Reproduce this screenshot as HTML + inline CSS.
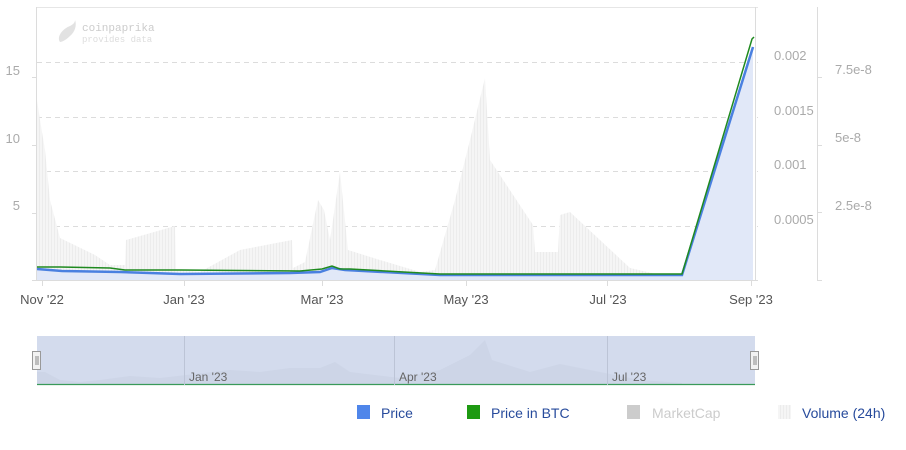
<!DOCTYPE html>
<html><head><meta charset="utf-8"><style>
body{margin:0;background:#fff;width:906px;height:445px;overflow:hidden;font-family:"Liberation Sans",sans-serif}
</style></head><body>
<svg width="906" height="445" viewBox="0 0 906 445" xmlns="http://www.w3.org/2000/svg" font-family="Liberation Sans, sans-serif">
<defs>
<pattern id="vb" width="3" height="10" patternUnits="userSpaceOnUse"><rect width="3" height="10" fill="#f5f5f5"/><rect width="1" height="10" fill="#ececec"/></pattern>
</defs>
<line x1="37" y1="7.5" x2="758" y2="7.5" stroke="#e6e6e6"/>
<g stroke="#dcdcdc" stroke-dasharray="5,4">
<line x1="37" y1="62.5" x2="758" y2="62.5"/><line x1="37" y1="117.5" x2="758" y2="117.5"/>
<line x1="37" y1="171.5" x2="758" y2="171.5"/><line x1="37" y1="226.5" x2="758" y2="226.5"/>
</g>
<polygon fill="url(#vb)" points="37,280 37,100 40,120 45,150 50,200 60,238 95,255 110,265 125,265 126,240 175,226 176,270 200,272 240,250 292,240 293,268 305,262 318,200 324,210 330,240 340,172 348,250 380,260 420,272 435,270 455,200 470,140 485,78 490,160 533,225 535,252 558,252 560,215 570,212 600,240 630,268 660,275 682,276 682,280"/>
<polygon fill="#e1e8f8" points="37,280 37,269 62,271 120,272 180,274 290,273 320,272 332,268 345,270 440,275 682,275 753,47 753,280"/>
<polyline fill="none" stroke="#4a80e0" stroke-width="2.5" points="37,269 62,271 120,272 180,274 290,273 320,272 332,268 345,270 440,275 682,275 753,47"/>
<polyline fill="none" stroke="#1f8a1f" stroke-width="1.5" points="37,267 60,267 110,268 125,270 180,270 300,271 322,269 332,266 340,269 350,269 440,274 682,274 752,39 754,37"/>
<line x1="36.5" y1="7" x2="36.5" y2="280" stroke="#dcdcdc"/>
<line x1="37" y1="280.5" x2="758" y2="280.5" stroke="#dcdcdc"/>
<line x1="755.5" y1="7" x2="755.5" y2="280" stroke="#dcdcdc"/>
<line x1="817.5" y1="7" x2="817.5" y2="280" stroke="#dcdcdc"/>
<g stroke="#dcdcdc"><line x1="32" y1="77.5" x2="37" y2="77.5"/><line x1="32" y1="145.5" x2="37" y2="145.5"/><line x1="32" y1="213.5" x2="37" y2="213.5"/><line x1="32" y1="280.5" x2="37" y2="280.5"/>
<line x1="817" y1="77.5" x2="822" y2="77.5"/><line x1="817" y1="145.5" x2="822" y2="145.5"/><line x1="817" y1="212.5" x2="822" y2="212.5"/><line x1="817" y1="280.5" x2="822" y2="280.5"/>
<line x1="42.5" y1="280" x2="42.5" y2="286"/><line x1="184.5" y1="280" x2="184.5" y2="286"/><line x1="322.5" y1="280" x2="322.5" y2="286"/><line x1="466.5" y1="280" x2="466.5" y2="286"/><line x1="607.5" y1="280" x2="607.5" y2="286"/><line x1="751.5" y1="280" x2="751.5" y2="286"/></g>
<g fill="#aaa" font-size="13">
<text x="20" y="75" text-anchor="end">15</text><text x="20" y="143" text-anchor="end">10</text><text x="20" y="210" text-anchor="end">5</text>
<text x="774" y="60">0.002</text><text x="774" y="115">0.0015</text><text x="774" y="169">0.001</text><text x="774" y="224">0.0005</text>
<text x="835" y="74">7.5e-8</text><text x="835" y="142">5e-8</text><text x="835" y="210">2.5e-8</text>
</g>
<g fill="#555" font-size="13" text-anchor="middle">
<text x="42" y="304">Nov '22</text><text x="184" y="304">Jan '23</text><text x="322" y="304">Mar '23</text><text x="466" y="304">May '23</text><text x="608" y="304">Jul '23</text><text x="751" y="304">Sep '23</text>
</g>
<path d="M60,42 C56,36 64,28 70,26 C74,24 75,22 75,20 C77,25 75,32 70,36 C66,40 62,42 60,42Z" fill="#e2e2e2"/>
<text x="82" y="31" fill="#ccc" font-family="Liberation Mono, monospace" font-size="11">coinpaprika</text>
<text x="82" y="42" fill="#ddd" font-family="Liberation Mono, monospace" font-size="9">provides data</text>
<rect x="37" y="336" width="718" height="49" fill="#d3dbed"/>
<polygon fill="#cdd5e7" points="37,385 37,372 45,372 60,380 80,382 100,380 130,376 160,378 230,370 260,372 290,368 320,368 335,362 350,372 400,378 440,370 470,355 485,340 492,360 530,372 560,364 600,372 640,380 682,383 682,385"/>
<line x1="37" y1="384.5" x2="755" y2="384.5" stroke="#3a9a5a" stroke-width="1.2"/>
<g stroke="#bcc4d6"><line x1="184.5" y1="336" x2="184.5" y2="385"/><line x1="394.5" y1="336" x2="394.5" y2="385"/><line x1="607.5" y1="336" x2="607.5" y2="385"/></g>
<g fill="#666" font-size="12"><text x="189" y="381">Jan '23</text><text x="399" y="381">Apr '23</text><text x="612" y="381">Jul '23</text></g>
<g fill="#f2f2f2" stroke="#999"><rect x="32.5" y="351.5" width="8" height="18"/><rect x="750.5" y="351.5" width="8" height="18"/></g>
<g stroke="#888"><line x1="36" y1="356" x2="36" y2="365"/><line x1="38" y1="356" x2="38" y2="365"/><line x1="754" y1="356" x2="754" y2="365"/><line x1="756" y1="356" x2="756" y2="365"/></g>
<rect x="357" y="405" width="13" height="14" fill="#4f86ea"/><text x="381" y="418" fill="#274b9c" font-size="14">Price</text>
<rect x="467" y="405" width="13" height="14" fill="#1e9a12"/><text x="491" y="418" fill="#274b9c" font-size="14">Price in BTC</text>
<rect x="627" y="405" width="13" height="14" fill="#cccccc"/><text x="652" y="418" fill="#cccccc" font-size="14">MarketCap</text>
<rect x="778" y="405" width="13" height="14" fill="url(#vb)"/><text x="802" y="418" fill="#274b9c" font-size="14">Volume (24h)</text>
</svg>
</body></html>
